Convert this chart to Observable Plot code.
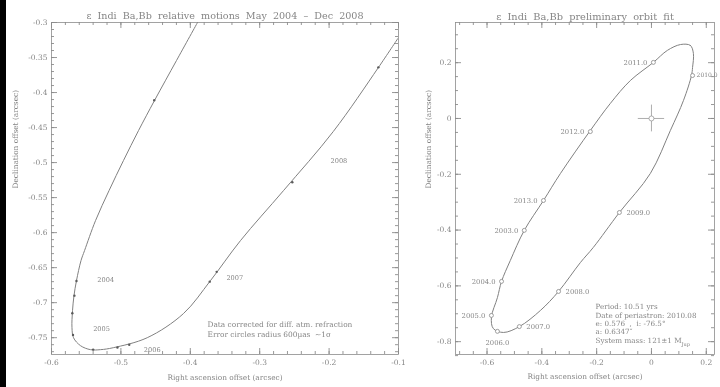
<!DOCTYPE html>
<html><head><meta charset="utf-8">
<script src="https://cdn.jsdelivr.net/npm/d3@7"></script>
<script src="https://cdn.jsdelivr.net/npm/@observablehq/plot@0.6"></script>
<style>
html,body{margin:0;padding:0;background:#fff;}
#wrap{position:relative;width:720px;height:387px;overflow:hidden;}
#bar{position:absolute;left:0;top:0;width:6px;height:387px;background:#000;}
#left{position:absolute;left:0;top:0;will-change:transform;}
#right{position:absolute;left:402px;top:0;will-change:transform;}
svg{display:block;}
svg text{white-space:pre;}
</style></head><body>
<div id="wrap"><div id="left"></div><div id="right"></div><div id="bar"></div></div>
<script>
// ---------- Left panel: relative motion track (arcsec) ----------
const motionRA  = [-0.3896,-0.4199,-0.4516,-0.4746,-0.4963,-0.5171,-0.5366,-0.5524,-0.5575,-0.5640,-0.5676,-0.5697,-0.5705,-0.5683,-0.5582,-0.5438,-0.5294,-0.5110,-0.4620,-0.4100,-0.3710,-0.3277,-0.2657,-0.1940,-0.1290,-0.1010];
const motionDec = [-0.3000,-0.3543,-0.4114,-0.4543,-0.4971,-0.5400,-0.5829,-0.6257,-0.6400,-0.6686,-0.6900,-0.7114,-0.7357,-0.7500,-0.7614,-0.7671,-0.7671,-0.7643,-0.7500,-0.7157,-0.6686,-0.6114,-0.5400,-0.4557,-0.3643,-0.3229];
const obsRA  = [-0.452,-0.564,-0.567,-0.570,-0.569,-0.540,-0.505,-0.488,-0.372,-0.362,-0.253,-0.129];
const obsDec = [-0.411,-0.669,-0.690,-0.715,-0.746,-0.767,-0.764,-0.760,-0.670,-0.656,-0.528,-0.364];
const yearLabels = ["2004","2005","2006","2007","2008"];
const yearRA  = [-0.534,-0.540,-0.467,-0.348,-0.198];
const yearDec = [-0.667,-0.737,-0.767,-0.664,-0.497];
const leftTitle = "\u03b5  Indi  Ba,Bb  relative  motions  May  2004  \u2013  Dec  2008";
const leftNotes = ["Data corrected for diff. atm. refraction", "Error circles radius 600\u00b5as  ~1\u03c3"];
const leftXTicks = [-0.6,-0.5,-0.4,-0.3,-0.2,-0.1];
const leftXTickLabels = ["-0.6","-0.5","-0.4","-0.3","-0.2","-0.1"];
const leftYTicks = [-0.75,-0.7,-0.65,-0.6,-0.55,-0.5,-0.45,-0.4,-0.35,-0.3];
const leftYTickLabels = ["-0.75","-0.7","-0.65","-0.6","-0.55","-0.5","-0.45","-0.4","-0.35","-0.3"];

// ---------- Right panel: preliminary orbit fit ----------
const orbitRA  = [0.106,0.142,0.153,0.150,0.146,0.117,0.069,-0.004,-0.117,-0.212,-0.259,-0.339,-0.405,-0.482,-0.540,-0.577,-0.584,-0.562,-0.547,-0.515,-0.464,-0.394,-0.332,-0.223,-0.150,-0.077,0.007,0.058];
const orbitDec = [0.265,0.262,0.233,0.183,0.154,0.065,-0.043,-0.197,-0.337,-0.462,-0.516,-0.620,-0.688,-0.746,-0.767,-0.753,-0.713,-0.642,-0.584,-0.509,-0.401,-0.294,-0.197,-0.043,0.054,0.136,0.201,0.244];
const epochLabels = ["2010.0","2011.0","2012.0","2013.0","2003.0","2004.0","2005.0","2006.0","2007.0","2008.0","2009.0"];
const epochRA  = [0.150,0.007,-0.223,-0.394,-0.464,-0.547,-0.584,-0.562,-0.482,-0.339,-0.117];
const epochDec = [0.154,0.201,-0.047,-0.294,-0.401,-0.584,-0.706,-0.763,-0.746,-0.620,-0.337];
const primaryRA = [0], primaryDec = [0], primaryErr = [0.048];
const rightTitle = "\u03b5  Indi  Ba,Bb  preliminary  orbit  fit";
const orbitInfo = ["Period: 10.51 yrs", "Date of periastron: 2010.08", "e: 0.576  ,  i: -76.5\u00b0", "a: 0.6347\u2033", "System mass: 121\u00b11 M_Jup"];
const rightXTicks = [-0.6,-0.4,-0.2,0,0.2];
const rightXTickLabels = ["-0.6","-0.4","-0.2","0","0.2"];
const rightYTicks = [-0.8,-0.6,-0.4,-0.2,0,0.2];
const rightYTickLabels = ["-0.8","-0.6","-0.4","-0.2","0","0.2"];
const axisLabelX = "Right ascension offset (arcsec)";
const axisLabelY = "Declination offset (arcsec)";

// ---------- styling ----------
const FONT = "'DejaVu Serif','Liberation Serif',serif";
const INK = "#858585";
const LINE = "#8c8c8c";

const zip = (a, b) => a.map((v, i) => ({x: v, y: b[i]}));

function boxAxes(W, H, xMajor, xMinor, xLabels, yMajor, yMinor, yLabels) {
  const xl = new Map(xMajor.map((v, i) => [v, xLabels[i]]));
  const yl = new Map(yMajor.map((v, i) => [v, yLabels[i]]));
  const s = {stroke: LINE, strokeWidth: 0.9};
  const big = 6, small = 3;
  return [
    Plot.tickX(xMajor, {...s, x: d => d, insetTop: H - big}),
    Plot.tickX(xMinor, {...s, x: d => d, insetTop: H - small}),
    Plot.tickX(xMajor, {...s, x: d => d, insetBottom: H - big}),
    Plot.tickX(xMinor, {...s, x: d => d, insetBottom: H - small}),
    Plot.tickY(yMajor, {...s, y: d => d, insetRight: W - big}),
    Plot.tickY(yMinor, {...s, y: d => d, insetRight: W - small}),
    Plot.tickY(yMajor, {...s, y: d => d, insetLeft: W - big}),
    Plot.tickY(yMinor, {...s, y: d => d, insetLeft: W - small}),
    Plot.axisX(xMajor, {anchor: "bottom", tickSize: 0, tickPadding: 5, tickFormat: d => xl.get(d), fill: INK, label: null, fontSize: 7.5}),
    Plot.axisY(yMajor, {anchor: "left", tickSize: 0, tickPadding: 4, tickFormat: d => yl.get(d), fill: INK, label: null, fontSize: 7.5}),
    Plot.frame({stroke: LINE, strokeWidth: 0.8})
  ];
}

const styleObj = {fontFamily: FONT, fontSize: "7.5px", color: INK, background: "transparent"};

// ---------- left chart ----------
const LW = 412, LML = 51, LMR = 14, MT = 22, MB = 33, H = 387;
const leftChart = Plot.plot({
  width: LW, height: H,
  marginLeft: LML, marginRight: LMR, marginTop: MT, marginBottom: MB,
  x: {domain: [-0.6, -0.1]},
  y: {domain: [-0.774, -0.3]},
  style: styleObj,
  marks: [
    ...boxAxes(LW - LML - LMR, H - MT - MB,
               leftXTicks, d3.range(-0.6, -0.0999, 0.02), leftXTickLabels,
               leftYTicks, d3.range(-0.77, -0.2999, 0.01), leftYTickLabels),
    Plot.line(zip(motionRA, motionDec), {x: "x", y: "y", stroke: "#808080", strokeWidth: 1, curve: "catmull-rom", clip: true}),
    Plot.dot(zip(obsRA, obsDec), {x: "x", y: "y", r: 1.2, fill: "#5a5a5a", stroke: "none"}),
    Plot.text(yearLabels.map((t, i) => ({t, x: yearRA[i], y: yearDec[i]})), {x: "x", y: "y", text: "t", fill: INK, fontSize: 6.6, textAnchor: "start"}),
    Plot.text([leftNotes.join("\n")], {frameAnchor: "bottom-left", text: d => d, dx: 156, dy: -18, textAnchor: "start", lineAnchor: "bottom", lineHeight: 1.35, fontSize: 7.4, fill: INK}),
    Plot.text([leftTitle], {frameAnchor: "top", text: d => d, dy: -10, fontSize: 9.6, fill: INK}),
    Plot.text([axisLabelX], {frameAnchor: "bottom", text: d => d, dy: 25, fontSize: 7.4, fill: INK}),
    Plot.text([axisLabelY], {frameAnchor: "left", text: d => d, dx: -36, rotate: -90, fontSize: 7.4, fill: INK})
  ]
});
document.getElementById("left").appendChild(leftChart);

// ---------- right chart ----------
const leftSide = new Set(["2011.0","2012.0","2013.0","2003.0","2004.0","2005.0"]);
const rightSide = new Set(["2009.0","2007.0","2008.0"]);
const edgeSide = new Set(["2010.0"]);
const epochs = epochLabels.map((t, i) => ({t, x: epochRA[i], y: epochDec[i]}));
const primary = primaryRA.map((v, i) => ({x: v, y: primaryDec[i], e: primaryErr[i]}));

const RW = 318, RML = 53, RMR = 6;
const rightChart = Plot.plot({
  width: RW, height: H,
  marginLeft: RML, marginRight: RMR, marginTop: MT, marginBottom: MB,
  x: {domain: [-0.715, 0.230]},
  y: {domain: [-0.846, 0.344]},
  style: styleObj,
  marks: [
    ...boxAxes(RW - RML - RMR, H - MT - MB,
               rightXTicks, d3.range(-0.7, 0.2301, 0.05), rightXTickLabels,
               rightYTicks, d3.range(-0.85, 0.3401, 0.05), rightYTickLabels),
    Plot.line(zip(orbitRA, orbitDec), {x: "x", y: "y", stroke: "#808080", strokeWidth: 1, curve: "catmull-rom-closed"}),
    Plot.dot(epochs, {x: "x", y: "y", r: 2, stroke: "#888", strokeWidth: 0.8, fill: "white"}),
    Plot.text(epochs.filter(d => leftSide.has(d.t)), {x: "x", y: "y", text: "t", dx: -6, textAnchor: "end", fontSize: 6.8, fill: INK}),
    Plot.text(epochs.filter(d => rightSide.has(d.t)), {x: "x", y: "y", text: "t", dx: 7, textAnchor: "start", fontSize: 6.8, fill: INK}),
    Plot.text(epochs.filter(d => edgeSide.has(d.t)), {x: "x", y: "y", text: "t", dx: 4, textAnchor: "start", fontSize: 6, fill: INK}),
    Plot.text(epochs.filter(d => !leftSide.has(d.t) && !rightSide.has(d.t) && !edgeSide.has(d.t)), {x: "x", y: "y", text: "t", dy: 11, fontSize: 6.8, fill: INK}),
    Plot.ruleX(primary, {x: "x", y1: d => d.y - d.e, y2: d => d.y + d.e, stroke: "#999", strokeWidth: 0.8}),
    Plot.ruleY(primary, {y: "y", x1: d => d.x - d.e, x2: d => d.x + d.e, stroke: "#999", strokeWidth: 0.8}),
    Plot.dot(primary, {x: "x", y: "y", r: 2.5, stroke: "#999", strokeWidth: 0.8, fill: "white"}),
    Plot.text([orbitInfo.join("\n")], {frameAnchor: "bottom-left", text: d => d, dx: 140, dy: -12, textAnchor: "start", lineAnchor: "bottom", lineHeight: 1.15, fontSize: 7.2, fill: INK}),
    Plot.text([rightTitle], {frameAnchor: "top", text: d => d, dy: -9, fontSize: 9.8, fill: INK}),
    Plot.text([axisLabelX], {frameAnchor: "bottom", text: d => d, dy: 24, fontSize: 7.4, fill: INK}),
    Plot.text([axisLabelY], {frameAnchor: "left", text: d => d, dx: -27, rotate: -90, fontSize: 7.4, fill: INK})
  ]
});
document.getElementById("right").appendChild(rightChart);

// subscript for M_Jup
rightChart.querySelectorAll("text, tspan").forEach(el => {
  if (el.childNodes.length === 1 && el.childNodes[0].nodeType === 3 && el.textContent.includes("M_Jup")) {
    const parts = el.textContent.split("M_Jup");
    el.textContent = parts[0] + "M";
    const sub = document.createElementNS("http://www.w3.org/2000/svg", "tspan");
    sub.setAttribute("baseline-shift", "sub");
    sub.setAttribute("font-size", "5");
    sub.textContent = "Jup";
    el.appendChild(sub);
  }
});
</script>
</body></html>
